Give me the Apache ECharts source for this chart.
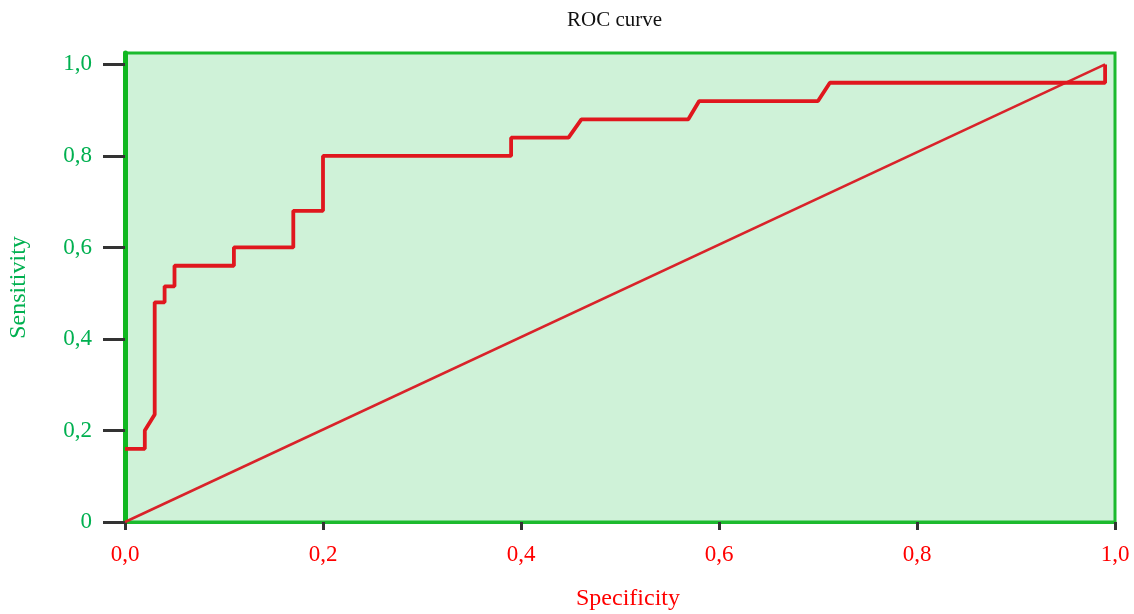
<!DOCTYPE html>
<html>
<head>
<meta charset="utf-8">
<script src="https://cdn.jsdelivr.net/npm/echarts@6/dist/echarts.min.js"></script>
<style>html,body{margin:0;padding:0;background:#fff}#c{width:1134px;height:614px}</style>
</head>
<body>
<div id="c"></div>
<script>
// ROC curve points [specificity axis value, sensitivity]
const rocX = [0, 0.02, 0.02, 0.03, 0.03, 0.04, 0.04, 0.05, 0.05, 0.11, 0.11, 0.17, 0.17, 0.20, 0.20, 0.39, 0.39, 0.448, 0.461, 0.569, 0.58, 0.70, 0.712, 0.99, 0.99];
const rocY = [0.16, 0.16, 0.20, 0.235, 0.48, 0.48, 0.515, 0.515, 0.56, 0.56, 0.60, 0.60, 0.68, 0.68, 0.80, 0.80, 0.84, 0.84, 0.88, 0.88, 0.92, 0.92, 0.96, 0.96, 1.00];
// reference diagonal
const diagX = [0, 0.99];
const diagY = [0, 1.0];
const xTicks = [0, 0.2, 0.4, 0.6, 0.8, 1.0];
const xTickLabels = ['0,0', '0,2', '0,4', '0,6', '0,8', '1,0'];
const yTicks = [0, 0.2, 0.4, 0.6, 0.8, 1.0];
const yTickLabels = ['0', '0,2', '0,4', '0,6', '0,8', '1,0'];

const roc = rocX.map((x, i) => [x, rocY[i]]);
const diag = diagX.map((x, i) => [x, diagY[i]]);
const fmt = (ticks, labels) => v => {
  const i = ticks.findIndex(t => Math.abs(t - v) < 1e-6);
  return i >= 0 ? labels[i] : '';
};
const serif = '"Liberation Serif", "DejaVu Serif", serif';

const chart = echarts.init(document.getElementById('c'), null, {renderer: 'canvas'});
chart.setOption({
  animation: false,
  backgroundColor: '#ffffff',
  title: {
    text: 'ROC curve',
    left: 562, top: 5,
    textStyle: {fontFamily: serif, fontSize: 21, fontWeight: 'normal', color: '#111'}
  },
  grid: {
    left: 125, right: 19, top: 53, bottom: 92,
    containLabel: false,
    outerBoundsMode: 'none',
    show: true,
    backgroundColor: '#cff2d8',
    borderColor: '#1cba2e',
    borderWidth: 3
  },
  xAxis: {
    type: 'value', min: 0, max: 1,
    name: 'Specificity', nameLocation: 'middle', nameGap: 65,
    nameTextStyle: {fontFamily: serif, fontSize: 24, color: '#ff0000', padding: [0, 0, 0, 16]},
    axisLine: {show: true, onZero: false, lineStyle: {color: '#1cba2e', width: 3}},
    axisTick: {show: true, customValues: xTicks, length: 8, lineStyle: {color: '#333', width: 3}},
    axisLabel: {customValues: xTicks, formatter: fmt(xTicks, xTickLabels), margin: 21,
      fontFamily: serif, fontSize: 23, color: '#ff0000'},
    splitLine: {show: false}
  },
  yAxis: {
    type: 'value', min: 0, max: 1.025,
    name: 'Sensitivity', nameLocation: 'middle', nameGap: 94,
    nameTextStyle: {fontFamily: serif, fontSize: 24, color: '#00b050'},
    axisLine: {show: true, onZero: false, lineStyle: {color: '#10b820', width: 5}},
    axisTick: {show: true, customValues: yTicks, length: 22, lineStyle: {color: '#333', width: 3}},
    axisLabel: {customValues: yTicks, formatter: fmt(yTicks, yTickLabels), margin: 33,
      fontFamily: serif, fontSize: 23, color: '#00b050'},
    splitLine: {show: false}
  },
  series: [
    {
      type: 'line', data: diag, symbol: 'none', z: 2,
      lineStyle: {color: '#d9232a', width: 2.5}
    },
    {
      type: 'line', data: roc, symbol: 'none', z: 3,
      lineStyle: {color: '#e0171e', width: 3.8}
    }
  ]
});
</script>
</body>
</html>
